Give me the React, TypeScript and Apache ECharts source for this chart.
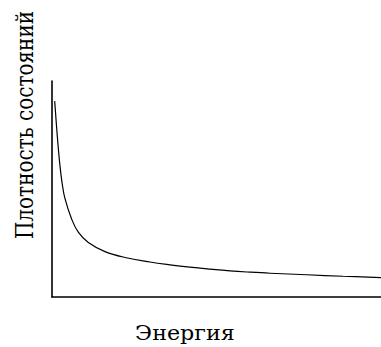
import React, { useEffect, useRef } from "react";
import * as echarts from "echarts";

const energy = [0.082, 0.161, 0.234, 0.3, 0.395, 0.599, 0.799, 1.103, 1.611, 2.219, 2.979, 3.587, 4.195, 4.802, 5.41, 6.018, 6.626, 7.742, 8.845, 10.0];
const density = [9.07, 7.45, 6.2, 5.35, 4.55, 3.6, 3.0, 2.52, 2.1, 1.83, 1.62, 1.49, 1.38, 1.29, 1.21, 1.15, 1.1, 1.03, 0.96, 0.9];
const xLabel = "Энергия";
const yLabel = "Плотность состояний";

export default function App() {
  const ref = useRef<HTMLDivElement>(null);
  useEffect(() => {
    if (!ref.current) return;
    const chart = echarts.init(ref.current, null, { renderer: "svg" });
    const fontFamily = "DejaVu Serif";
    chart.setOption({
      animation: false,
      backgroundColor: "#ffffff",
      grid: { left: 52, top: 81, right: 0, bottom: 50 },
      xAxis: {
        type: "value",
        min: 0,
        max: 10,
        axisLine: { show: true, lineStyle: { color: "#000", width: 1.6 } },
        axisTick: { show: false },
        axisLabel: { show: false },
        splitLine: { show: false },
      },
      yAxis: {
        type: "value",
        min: 0,
        max: 10,
        axisLine: { show: true, lineStyle: { color: "#000", width: 1.6 } },
        axisTick: { show: false },
        axisLabel: { show: false },
        splitLine: { show: false },
      },
      series: [
        {
          type: "line",
          data: energy.map((e, i) => [e, density[i]]),
          showSymbol: false,
          smooth: 0.4,
          lineStyle: { color: "#000", width: 1.2 },
        },
      ],
      graphic: [
        {
          type: "text",
          x: 185,
          y: 333,
          scaleX: 1.06,
          style: {
            text: xLabel,
            fontFamily,
            fontSize: 21,
            fill: "#000",
            textAlign: "center",
            textVerticalAlign: "middle",
          },
        },
        {
          type: "text",
          x: 24,
          y: 125,
          rotation: Math.PI / 2,
          scaleY: 1.25,
          style: {
            text: yLabel,
            fontFamily,
            fontSize: 20,
            fill: "#000",
            textAlign: "center",
            textVerticalAlign: "middle",
          },
        },
      ],
    });
    return () => chart.dispose();
  }, []);
  return (
    <div
      ref={ref}
      style={{ position: "absolute", left: 0, top: 0, width: 381, height: 347 }}
    />
  );
}
